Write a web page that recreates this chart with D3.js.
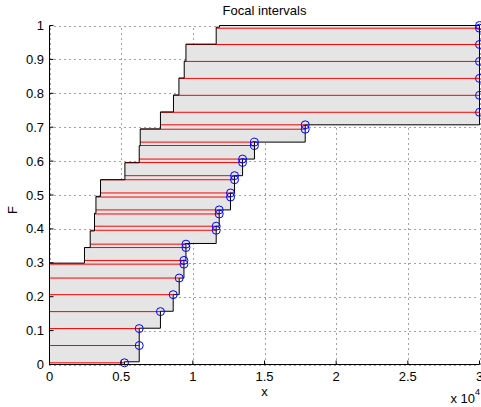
<!DOCTYPE html>
<html lang="en">
<head>
<meta charset="UTF-8">
<title>Focal intervals</title>
<script src="https://cdn.jsdelivr.net/npm/d3@7/dist/d3.min.js"></script>
<style>
  body, html { margin: 0; background: #fff; }
  svg { display: block; font-family: "Liberation Sans", Arial, Helvetica, sans-serif; }
</style>
</head>
<body>
<svg width="481" height="407"></svg>
<script>
// left bound of the p-box: band start level and x value of that band
const leftF = [0, 0.299, 0.345, 0.394, 0.446, 0.496, 0.545, 0.595, 0.645, 0.695, 0.745, 0.795, 0.845, 0.895, 0.945, 0.995];
const leftX = [0, 2440, 2840, 3140, 3240, 3560, 5260, 6260, 6330, 7740, 8650, 9030, 9400, 9520, 11630, 11860];
// right bound of the p-box
const rightF = [0, 0.008, 0.107, 0.157, 0.206, 0.255, 0.307, 0.357, 0.408, 0.456, 0.506, 0.557, 0.606, 0.656, 0.707];
const rightX = [5230, 6260, 7740, 8630, 9050, 9380, 9520, 11630, 11840, 12630, 12910, 13470, 14300, 17840, 30000];
// focal intervals (red lines), upper end marked with a circle
const lineF = [0.005, 0.056, 0.106, 0.156, 0.206, 0.255, 0.296, 0.307, 0.345, 0.355, 0.396, 0.408, 0.444, 0.456, 0.494, 0.506,
  0.545, 0.557, 0.596, 0.606, 0.646, 0.656, 0.694, 0.707, 0.744, 0.794, 0.844, 0.894, 0.944, 0.992, 1.0];
const lineLo = [0, 0, 0, 0, 0, 0, 0, 2440, 2440, 2840, 2840, 3140, 3140, 3240, 3240, 3560,
  3560, 5260, 5260, 6260, 6260, 6330, 6330, 7740, 7740, 8650, 9030, 9400, 9520, 11630, 11860];
const lineHi = [5230, 6260, 6260, 7740, 8630, 9050, 9380, 9380, 9520, 9520, 11630, 11630, 11840, 11840, 12630, 12630,
  12910, 12910, 13470, 13470, 14300, 14300, 17840, 17840, 30000, 30000, 30000, 30000, 30000, 30000, 30000];
const xTicks = [0, 5000, 10000, 15000, 20000, 25000, 30000];
const xTickLabels = ['0', '0.5', '1', '1.5', '2', '2.5', '3'];
const yTicks = [0, 0.1, 0.2, 0.3, 0.4, 0.5, 0.6, 0.7, 0.8, 0.9, 1];
const yTickLabels = ['0', '0.1', '0.2', '0.3', '0.4', '0.5', '0.6', '0.7', '0.8', '0.9', '1'];

const svg = d3.select('svg');
const x = d3.scaleLinear().domain([0, 30000]).range([49.5, 479.5]);
const y = d3.scaleLinear().domain([0, 1]).range([364.5, 25.5]);

// grid
const grid = svg.append('g').attr('stroke', '#444').attr('stroke-width', 1).attr('stroke-dasharray', '1,4');
grid.selectAll('.gx').data(xTicks).enter().append('line')
  .attr('x1', d => Math.round(x(d)) + 0.5).attr('x2', d => Math.round(x(d)) + 0.5)
  .attr('y1', y(0)).attr('y2', y(1));
grid.selectAll('.gy').data(yTicks).enter().append('line')
  .attr('y1', d => Math.round(y(d)) + 0.5).attr('y2', d => Math.round(y(d)) + 0.5)
  .attr('x1', x(0)).attr('x2', x(30000));

// p-box polygon
const pts = [];
leftF.forEach((f, i) => {
  const f2 = i < leftF.length - 1 ? leftF[i + 1] : 1;
  pts.push([leftX[i], f], [leftX[i], f2]);
});
for (let i = rightF.length - 1; i >= 0; i--) {
  const f2 = i < rightF.length - 1 ? rightF[i + 1] : 1;
  pts.push([rightX[i], f2], [rightX[i], rightF[i]]);
}
const poly = d3.line().x(d => x(d[0])).y(d => y(d[1]));
svg.append('path').attr('d', poly(pts) + 'Z').attr('fill', '#e5e5e5').attr('stroke', 'none');

// red lines
svg.append('g').attr('stroke', '#ff0000').attr('stroke-width', 1)
  .selectAll('line').data(lineF).enter().append('line')
  .attr('x1', (d, i) => x(lineLo[i])).attr('x2', (d, i) => x(lineHi[i]))
  .attr('y1', d => y(d)).attr('y2', d => y(d));

// outline
svg.append('path').attr('d', poly(pts) + 'Z').attr('fill', 'none').attr('stroke', '#000').attr('stroke-width', 1);

// circles
svg.append('g').attr('fill', 'none').attr('stroke', '#0000ff').attr('stroke-width', 1)
  .selectAll('circle').data(lineF).enter().append('circle')
  .attr('cx', (d, i) => x(lineHi[i])).attr('cy', d => y(d)).attr('r', 4);

// axes
const ax = svg.append('g').attr('stroke', '#000').attr('stroke-width', 1);
ax.append('line').attr('x1', x(0)).attr('x2', x(30000)).attr('y1', y(0)).attr('y2', y(0));
ax.append('line').attr('x1', x(0)).attr('x2', x(0)).attr('y1', y(0)).attr('y2', y(1));
ax.selectAll('.tx').data(xTicks).enter().append('line')
  .attr('x1', d => x(d)).attr('x2', d => x(d)).attr('y1', y(0)).attr('y2', y(0) - 4);
ax.selectAll('.ty').data(yTicks).enter().append('line')
  .attr('y1', d => y(d)).attr('y2', d => y(d)).attr('x1', x(0)).attr('x2', x(0) + 4);

const txt = svg.append('g').attr('font-size', 13).attr('fill', '#000');
txt.selectAll('.lx').data(xTicks).enter().append('text')
  .attr('x', d => x(d)).attr('y', 381).attr('text-anchor', 'middle')
  .text((d, i) => xTickLabels[i]);
txt.selectAll('.ly').data(yTicks).enter().append('text')
  .attr('x', 44).attr('y', d => y(d) + 4.5).attr('text-anchor', 'end')
  .text((d, i) => yTickLabels[i]);
txt.append('text').attr('x', 264.5).attr('y', 15).attr('text-anchor', 'middle').text('Focal intervals');
txt.append('text').attr('x', 264.5).attr('y', 396).attr('text-anchor', 'middle').text('x');
txt.append('text').attr('transform', 'translate(17,210) rotate(-90)').attr('text-anchor', 'middle').text('F');
const ex = txt.append('text').attr('x', 450.5).attr('y', 403);
ex.append('tspan').text('x 10');
ex.append('tspan').attr('font-size', 9).attr('dy', -8).text('4');
</script>
</body>
</html>
